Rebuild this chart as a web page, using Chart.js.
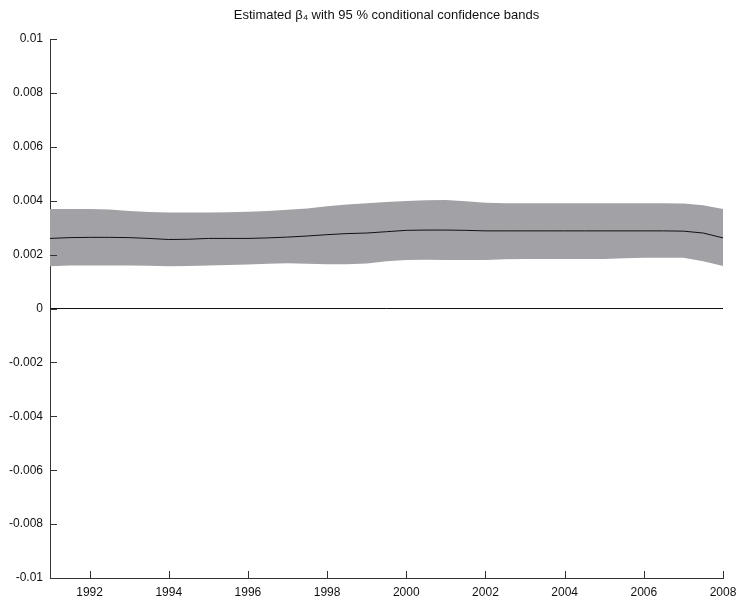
<!DOCTYPE html>
<html>
<head>
<meta charset="utf-8">
<script src="https://cdn.jsdelivr.net/npm/chart.js@4/dist/chart.umd.min.js"></script>
<style>
  html, body { margin: 0; padding: 0; background: #fff; }
  #wrap { width: 738px; height: 600px; }
</style>
</head>
<body>
<div id="wrap"><canvas id="beta4"></canvas></div>
<script>
// half-year grid
const years = [1991, 1991.5, 1992, 1992.5, 1993, 1993.5, 1994, 1994.5, 1995, 1995.5,
  1996, 1996.5, 1997, 1997.5, 1998, 1998.5, 1999, 1999.5, 2000, 2000.5,
  2001, 2001.5, 2002, 2002.5, 2003, 2003.5, 2004, 2004.5, 2005, 2005.5,
  2006, 2006.5, 2007, 2007.5, 2008];
const estimate = [0.00260, 0.00263, 0.00264, 0.00264, 0.00263, 0.00260, 0.00256, 0.00257, 0.00260, 0.00260,
  0.00260, 0.00262, 0.00265, 0.00269, 0.00274, 0.00278, 0.00280, 0.00285, 0.00290, 0.00291,
  0.00291, 0.00290, 0.00288, 0.00288, 0.00288, 0.00288, 0.00288, 0.00288, 0.00288, 0.00288,
  0.00288, 0.00288, 0.00287, 0.00280, 0.00262];
const upperBand = [0.00369, 0.00369, 0.00369, 0.00367, 0.00362, 0.00358, 0.00356, 0.00356, 0.00356, 0.00357,
  0.00359, 0.00362, 0.00366, 0.00371, 0.00379, 0.00386, 0.00391, 0.00395, 0.00399, 0.00402,
  0.00403, 0.00398, 0.00392, 0.00391, 0.00391, 0.00391, 0.00391, 0.00391, 0.00391, 0.00391,
  0.00391, 0.00391, 0.00390, 0.00383, 0.00369];
const lowerBand = [0.00157, 0.00160, 0.00160, 0.00160, 0.00160, 0.00159, 0.00157, 0.00158, 0.00160, 0.00161,
  0.00163, 0.00166, 0.00168, 0.00166, 0.00164, 0.00164, 0.00167, 0.00175, 0.00180, 0.00181,
  0.00180, 0.00180, 0.00180, 0.00183, 0.00184, 0.00184, 0.00184, 0.00184, 0.00184, 0.00186,
  0.00188, 0.00188, 0.00188, 0.00175, 0.00158];
const xTicks = [1992, 1994, 1996, 1998, 2000, 2002, 2004, 2006, 2008];
const yTicks = [-0.01, -0.008, -0.006, -0.004, -0.002, 0, 0.002, 0.004, 0.006, 0.008, 0.01];
const titleText = 'Estimated β₄ with 95 % conditional confidence bands';

function pts(vals) {
  return years.map((x, i) => ({ x: x, y: vals[i] }));
}

const fam = "'Liberation Sans', Arial, sans-serif";
const font = { family: fam, size: 12 };

// matlab style ticks pointing into the plot, title centred over the axes
const innerTicks = {
  id: 'innerTicks',
  afterDraw(chart) {
    const ctx = chart.ctx;
    const xs = chart.scales.x, ys = chart.scales.y;
    ctx.save();
    ctx.strokeStyle = '#333';
    ctx.lineWidth = 1;
    ctx.beginPath();
    ys.ticks.forEach(t => {
      const p = Math.round(ys.getPixelForValue(t.value)) + 0.5;
      ctx.moveTo(xs.left, p);
      ctx.lineTo(xs.left + 7, p);
    });
    xs.ticks.forEach(t => {
      const p = Math.round(xs.getPixelForValue(t.value)) + 0.5;
      ctx.moveTo(p, ys.bottom);
      ctx.lineTo(p, ys.bottom - 7);
    });
    ctx.stroke();

    ctx.fillStyle = '#111';
    ctx.font = '13px ' + fam;
    ctx.textAlign = 'center';
    ctx.textBaseline = 'middle';
    ctx.fillText(titleText, (chart.chartArea.left + chart.chartArea.right) / 2, 15);
    ctx.restore();
  }
};

new Chart(document.getElementById('beta4'), {
  type: 'line',
  data: {
    datasets: [
      { data: pts(lowerBand), borderWidth: 0, pointRadius: 0, fill: false, order: 3 },
      { data: pts(upperBand), borderWidth: 0, pointRadius: 0, fill: '-1',
        backgroundColor: '#a2a1a6', order: 2 },
      { data: pts(estimate), borderColor: '#111', borderWidth: 1, pointRadius: 0, fill: false, order: 1 },
      { data: [{ x: years[0], y: 0 }, { x: years[years.length - 1], y: 0 }],
        borderColor: '#111', borderWidth: 1, pointRadius: 0, fill: false, order: 0 }
    ]
  },
  options: {
    responsive: true,
    maintainAspectRatio: false,
    animation: false,
    layout: { padding: { left: 0, right: 15, top: 39, bottom: 0 } },
    plugins: {
      legend: { display: false },
      tooltip: { enabled: false },
      title: { display: false }
    },
    scales: {
      x: {
        type: 'linear',
        min: 1991,
        max: 2008,
        afterBuildTicks: s => { s.ticks = xTicks.map(v => ({ value: v })); },
        afterFit: s => { s.height = 22; s.paddingLeft = 0; s.paddingRight = 0; },
        grid: { display: true, drawOnChartArea: false, drawTicks: false },
        border: { display: true, color: '#333', width: 1 },
        ticks: { color: '#111', font: font, padding: 7, maxRotation: 0,
          callback: v => String(v) }
      },
      y: {
        type: 'linear',
        min: -0.01,
        max: 0.01,
        afterBuildTicks: s => { s.ticks = yTicks.map(v => ({ value: v })); },
        afterFit: s => { s.width = 50; },
        grid: { display: true, drawOnChartArea: false, drawTicks: false },
        border: { display: true, color: '#333', width: 1 },
        ticks: { color: '#111', font: font, padding: 7,
          callback: v => String(+Number(v).toFixed(3)) }
      }
    }
  },
  plugins: [innerTicks]
});
</script>
</body>
</html>
